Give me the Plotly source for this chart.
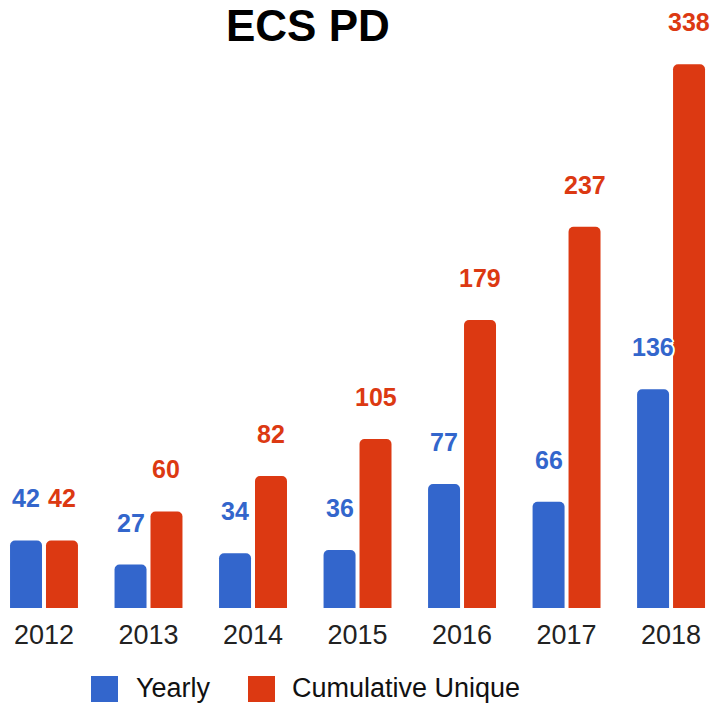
import plotly.graph_objects as go

# Data
years = ["2012", "2013", "2014", "2015", "2016", "2017", "2018"]
yearly = [42, 27, 34, 36, 77, 66, 136]
cumulative = [42, 60, 82, 105, 179, 237, 338]
series_names = ["Yearly", "Cumulative Unique"]
title_text = "ECS PD"

BLUE = "#3366cc"
RED = "#dc3912"
FONT = "Liberation Sans, Arial, sans-serif"

W, H = 716, 705
PLOT_H = 608  # plot area height in px (margin t=0)
BOTTOM = H - PLOT_H

xs = list(range(len(years)))
BAR_W = 0.306
OFF_BLUE = -0.325
OFF_RED = 0.019

fig = go.Figure()
fig.add_trace(go.Bar(
    x=xs, y=yearly, name=series_names[0], width=BAR_W, offset=OFF_BLUE,
    marker=dict(color=BLUE, line=dict(width=0)),
))
fig.add_trace(go.Bar(
    x=xs, y=cumulative, name=series_names[1], width=BAR_W, offset=OFF_RED,
    marker=dict(color=RED, line=dict(width=0)),
))

halo = ("white 2px 0px 0px, white -2px 0px 0px, white 0px 2px 0px, white 0px -2px 0px, "
        "white 1.5px 1.5px 0px, white -1.5px -1.5px 0px, white 1.5px -1.5px 0px, white -1.5px 1.5px 0px")

annotations = []
# value labels above each bar
for vals, off, col in ((yearly, OFF_BLUE, BLUE), (cumulative, OFF_RED, RED)):
    for i, v in enumerate(vals):
        annotations.append(dict(
            x=i + off + BAR_W / 2, y=v, xref="x", yref="y",
            text=str(v), showarrow=False, yanchor="middle", yshift=42,
            font=dict(family=FONT, size=25, color=col, weight="bold", shadow=halo),
        ))

# title
annotations.append(dict(
    x=307.5 / W, y=1 - 25 / PLOT_H, xref="paper", yref="paper",
    text=f"<b>{title_text}</b>", showarrow=False, xanchor="center", yanchor="middle",
    borderpad=0,
    font=dict(family=FONT, size=44, color="#000000"),
))

# legend (drawn manually so the swatches can be large)
legend_items = [(series_names[0], BLUE, 91, 135), (series_names[1], RED, 248, 291)]
shapes = []
for name, col, sx, tx in legend_items:
    shapes.append(dict(
        type="rect", xref="paper", yref="paper",
        x0=sx / W, x1=(sx + 27) / W,
        y0=(PLOT_H - 676) / PLOT_H, y1=(PLOT_H - 702) / PLOT_H,
        fillcolor=col, line=dict(width=0), layer="above",
    ))
    annotations.append(dict(
        x=tx / W, y=(PLOT_H - 688) / PLOT_H, xref="paper", yref="paper",
        text=name, showarrow=False, xanchor="left", yanchor="middle",
        borderpad=0,
        font=dict(family=FONT, size=27, color="#111111"),
    ))

fig.update_layout(
    width=W, height=H,
    margin=dict(l=0, r=0, t=0, b=BOTTOM, pad=0),
    paper_bgcolor="white", plot_bgcolor="white",
    showlegend=False,
    barcornerradius=5,
    annotations=annotations,
    shapes=shapes,
    xaxis=dict(
        range=[-0.421, 6.43], tickvals=xs, ticktext=years,
        showgrid=False, zeroline=False, showline=False, ticks="",
        ticklabelstandoff=8,
        tickfont=dict(family=FONT, size=27, color="#222222"),
    ),
    yaxis=dict(
        range=[0, 377.9], visible=False, showgrid=False, zeroline=False,
    ),
)

fig.write_html("out.html")
